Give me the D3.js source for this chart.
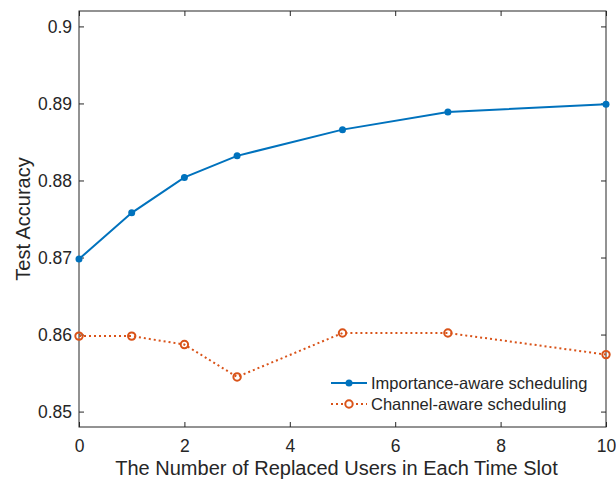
<!DOCTYPE html>
<html><head><meta charset="utf-8">
<script src="https://cdn.jsdelivr.net/npm/d3@7"></script>
<style>body{margin:0;background:#fff}svg{display:block}text{font-family:"Liberation Sans",Arial,Helvetica,sans-serif;fill:#262626}</style>
</head><body>
<script>
const xValues = [0, 1, 2, 3, 5, 7, 10];
const importanceAware = [0.8698, 0.8758, 0.8804, 0.8832, 0.8866, 0.8889, 0.8899];
const channelAware = [0.8598, 0.8598, 0.8587, 0.8545, 0.8602, 0.8602, 0.8574];
const seriesNames = ["Importance-aware scheduling", "Channel-aware scheduling"];
const xTicks = [0, 2, 4, 6, 8, 10];
const yTicks = [0.85, 0.86, 0.87, 0.88, 0.89, 0.9];

const W = 616, H = 482;
const m = {left: 79, right: 10, top: 11, bottom: 55};
const svg = d3.select("body").append("svg").attr("width", W).attr("height", H);
const x = d3.scaleLinear().domain([0, 10]).range([m.left, W - m.right]);
const y = d3.scaleLinear().domain([0.848, 0.902]).range([H - m.bottom, m.top]);
const axCol = "#262626";

// box
svg.append("rect").attr("x", x(0)).attr("y", y(0.902)).attr("width", x(10) - x(0)).attr("height", y(0.848) - y(0.902))
  .attr("fill", "none").attr("stroke", axCol).attr("stroke-width", 1);

const fmt = d => (d === 0.9 ? "0.9" : d3.format(".2f")(d));
const xb = svg.append("g").attr("transform", `translate(0,${y(0.848)})`)
  .call(d3.axisBottom(x).tickValues(xTicks).tickSizeInner(-5).tickSizeOuter(0).tickPadding(13));
const xt = svg.append("g").attr("transform", `translate(0,${y(0.902)})`)
  .call(d3.axisTop(x).tickValues(xTicks).tickSizeInner(-5).tickSizeOuter(0).tickFormat(""));
const yl = svg.append("g").attr("transform", `translate(${x(0)},0)`)
  .call(d3.axisLeft(y).tickValues(yTicks).tickFormat(fmt).tickSizeInner(-5).tickSizeOuter(0).tickPadding(7));
const yr = svg.append("g").attr("transform", `translate(${x(10)},0)`)
  .call(d3.axisRight(y).tickValues(yTicks).tickSizeInner(-5).tickSizeOuter(0).tickFormat(""));
[xb, xt, yl, yr].forEach(g => {
  g.select(".domain").remove();
  g.selectAll("line").attr("stroke", axCol);
  g.selectAll("text").style("font-size", "17.5px").attr("fill", axCol);
});

// axis labels
svg.append("text").attr("x", (x(0) + x(10)) / 2 - 6).attr("y", 475).attr("text-anchor", "middle")
  .style("font-size", "20px").text("The Number of Replaced Users in Each Time Slot");
svg.append("text").attr("transform", `translate(30,${(y(0.848) + y(0.902)) / 2}) rotate(-90)`).attr("text-anchor", "middle")
  .style("font-size", "20px").text("Test Accuracy");

const blue = "#0072BD", orange = "#D95319";
const line = d3.line().x((d, i) => x(xValues[i])).y(d => y(d));

svg.append("path").datum(importanceAware).attr("d", line).attr("fill", "none").attr("stroke", blue).attr("stroke-width", 2);
svg.selectAll(".pb").data(importanceAware).enter().append("circle")
  .attr("cx", (d, i) => x(xValues[i])).attr("cy", d => y(d)).attr("r", 3.5).attr("fill", blue);

svg.append("path").datum(channelAware).attr("d", line).attr("fill", "none").attr("stroke", orange).attr("stroke-width", 2).attr("stroke-dasharray", "2,3");
svg.selectAll(".po").data(channelAware).enter().append("circle")
  .attr("cx", (d, i) => x(xValues[i])).attr("cy", d => y(d)).attr("r", 3.7).attr("fill", "none").attr("stroke", orange).attr("stroke-width", 2);

// legend
const lg = svg.append("g");
const rows = [{n: seriesNames[0], c: blue, dash: null, filled: true, yy: 383},
              {n: seriesNames[1], c: orange, dash: "2,3", filled: false, yy: 404}];
rows.forEach(r => {
  lg.append("line").attr("x1", 331).attr("x2", 367).attr("y1", r.yy).attr("y2", r.yy)
    .attr("stroke", r.c).attr("stroke-width", 2).attr("stroke-dasharray", r.dash);
  const c = lg.append("circle").attr("cx", 349).attr("cy", r.yy).attr("r", r.filled ? 3.5 : 3.7);
  if (r.filled) c.attr("fill", r.c); else c.attr("fill", "#fff").attr("stroke", r.c).attr("stroke-width", 2);
  lg.append("text").attr("x", 371).attr("y", r.yy + 6).style("font-size", "16.5px").text(r.n);
});
</script>
</body></html>
